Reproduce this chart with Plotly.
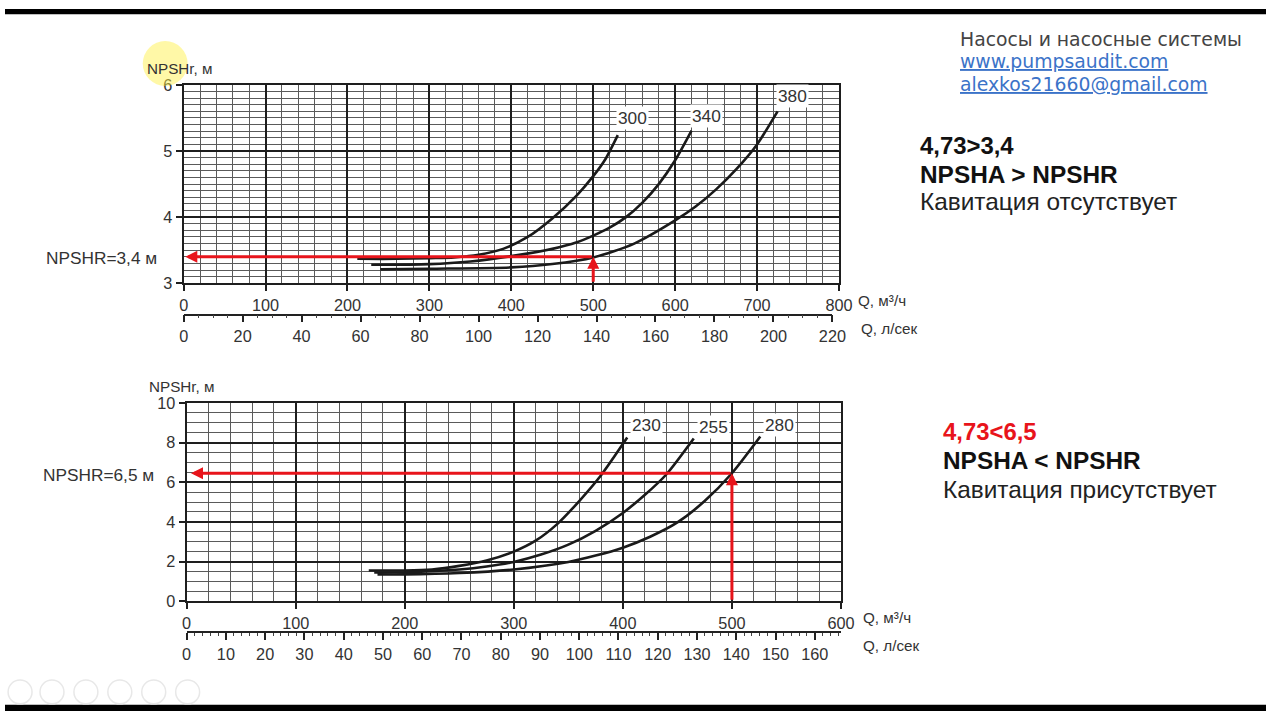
import plotly.graph_objects as go

# ---------------- data ----------------
# Top chart (impeller diameters 300/340/380), Q in m3/h, NPSHr in m
top_names = ["300", "340", "380"]
top_q = [
    [212, 260, 300, 330, 360, 390, 420, 450, 480, 500, 515, 530],
    [229, 300, 350, 400, 450, 480, 500, 520, 540, 560, 580, 600, 620],
    [240, 300, 400, 450, 500, 550, 600, 625, 650, 675, 700, 725],
]
top_h = [
    [3.37, 3.37, 3.38, 3.39, 3.43, 3.52, 3.70, 3.98, 4.33, 4.62, 4.88, 5.24],
    [3.28, 3.29, 3.33, 3.41, 3.52, 3.62, 3.72, 3.84, 4.00, 4.22, 4.50, 4.86, 5.31],
    [3.21, 3.22, 3.24, 3.29, 3.39, 3.60, 3.95, 4.16, 4.42, 4.73, 5.10, 5.60],
]
top_label_pos = [(548, 5.5), (638, 5.53), (743, 5.83)]

# Bottom chart (impeller diameters 230/255/280)
bot_names = ["230", "255", "280"]
bot_q = [
    [167, 200, 225, 250, 275, 300, 320, 340, 360, 380, 404],
    [172, 200, 250, 275, 300, 325, 350, 375, 400, 420, 440, 465],
    [175, 200, 250, 300, 350, 375, 400, 425, 450, 475, 500, 526],
]
bot_h = [
    [1.55, 1.55, 1.60, 1.78, 2.05, 2.50, 3.05, 3.90, 5.05, 6.35, 8.25],
    [1.45, 1.45, 1.60, 1.75, 1.98, 2.35, 2.85, 3.55, 4.45, 5.35, 6.40, 8.20],
    [1.35, 1.35, 1.42, 1.60, 1.98, 2.30, 2.70, 3.25, 3.97, 5.05, 6.45, 8.30],
]
bot_label_pos = [(422, 8.9), (483, 8.8), (544, 8.9)]

# operating point
Q_work = 500
npshr_top = 3.4
npshr_bot = 6.45

top_xticks = list(range(0, 801, 100))
top_lsticks = list(range(0, 221, 20))
bot_xticks = list(range(0, 601, 100))
bot_lsticks = list(range(0, 161, 10))

# Figure 1280x720 sits in the page with the default 8 px body margin;
# layout positions below are given in target-picture pixels and converted.
W, H = 1280, 720
OFF = 8
XSHIFT = 3
SX, SY = (W + 2 * OFF) / W, (H + 2 * OFF) / H
def px(x): return ((x + XSHIFT) * SX - OFF) / W
def py(y): return 1 - (y * SY - OFF) / H
FS = 1.017  # font scale

TICKFONT = dict(family="Liberation Sans Narrow, Arial Narrow, Liberation Sans, Arial", size=16 * FS, color="#333")
RED = "#e8141b"
MAJ = "#1e1e1e"
MIN = "#5a5a5a"

fig = go.Figure()

for q, h in zip(top_q, top_h):
    fig.add_trace(go.Scatter(x=q, y=h, xaxis="x", yaxis="y", mode="lines",
                             line=dict(color="#1a1a1a", width=2.6, shape="spline", smoothing=0.7),
                             hoverinfo="skip", showlegend=False))
for q, h in zip(bot_q, bot_h):
    fig.add_trace(go.Scatter(x=q, y=h, xaxis="x2", yaxis="y2", mode="lines",
                             line=dict(color="#1a1a1a", width=2.6, shape="spline", smoothing=0.7),
                             hoverinfo="skip", showlegend=False))
# dummy traces for secondary (l/s) axes
fig.add_trace(go.Scatter(x=[0], y=[0], xaxis="x3", yaxis="y3", mode="markers",
                         marker=dict(opacity=0), hoverinfo="skip", showlegend=False))
fig.add_trace(go.Scatter(x=[0], y=[0], xaxis="x4", yaxis="y4", mode="markers",
                         marker=dict(opacity=0), hoverinfo="skip", showlegend=False))

def main_x(domain, rng, minor, anchor, ticks):
    return dict(domain=domain, range=rng, anchor=anchor, tickvals=ticks, ticks="outside", ticklen=6,
                tickwidth=2, tickcolor=MAJ, showline=True, linecolor=MAJ, linewidth=2, mirror=True,
                showgrid=True, gridcolor=MAJ, gridwidth=2, zeroline=False, tickfont=TICKFONT,
                minor=dict(dtick=minor, tick0=0, showgrid=True, gridcolor=MIN, gridwidth=1),
                fixedrange=True)

def main_y(domain, rng, dtick, minor, anchor):
    return dict(domain=domain, range=rng, anchor=anchor, dtick=dtick, tick0=0, ticks="outside", ticklen=6,
                tickwidth=2, tickcolor=MAJ, showline=True, linecolor=MAJ, linewidth=2, mirror=True,
                showgrid=True, gridcolor=MAJ, gridwidth=2, zeroline=False, tickfont=TICKFONT,
                minor=dict(dtick=minor, tick0=0, showgrid=True, gridcolor=MIN, gridwidth=1),
                fixedrange=True)

def ls_x(domain, rng, ticks, minor, anchor):
    return dict(domain=domain, range=rng, anchor=anchor, tickvals=ticks, ticks="outside", ticklen=7,
                tickwidth=1.5, tickcolor="#222", showline=True, linecolor="#222", linewidth=1.5,
                showgrid=False, zeroline=False, tickfont=TICKFONT,
                minor=dict(dtick=minor, tick0=0, ticks="outside", ticklen=3, tickwidth=1, tickcolor="#444"),
                fixedrange=True)

def dummy_y(pos):
    return dict(domain=[py(pos) - 0.0005, py(pos)], range=[0, 1], visible=False, fixedrange=True)

top_x_dom = [px(184), px(841)]
bot_x_dom = [px(187), px(843)]
top_ls_end = 184 + 220 * 3.6 * (841 - 184) / 800
bot_ls_end = 843

fig.update_layout(
    width=W, height=H, margin=dict(l=0, r=0, t=0, b=0),
    paper_bgcolor="white", plot_bgcolor="white", showlegend=False,
    xaxis=main_x(top_x_dom, [0, 800], 20, "y", top_xticks),
    yaxis=main_y([py(283), py(84)], [3, 6], 1, 0.1, "x"),
    xaxis2=main_x(bot_x_dom, [0, 600], 20, "y2", bot_xticks),
    yaxis2=main_y([py(602), py(403)], [0, 10], 2, 0.5, "x2"),
    xaxis3=ls_x([px(184), px(top_ls_end)], [0, 220], top_lsticks, 5, "y3"),
    yaxis3=dummy_y(313),
    xaxis4=ls_x([px(187), px(bot_ls_end)], [0, 600 / 3.6], bot_lsticks, 2, "y4"),
    yaxis4=dummy_y(632),
)

ann = []
# curve labels
for name, (lx, ly) in zip(top_names, top_label_pos):
    ann.append(dict(x=lx, y=ly, xref="x", yref="y", text=name, showarrow=False, bgcolor="white",
                    borderpad=1, font=dict(family="Liberation Sans, Arial", size=17 * FS, color="#333")))
for name, (lx, ly) in zip(bot_names, bot_label_pos):
    ann.append(dict(x=lx, y=ly, xref="x2", yref="y2", text=name, showarrow=False, bgcolor="white",
                    borderpad=1, font=dict(family="Liberation Sans, Arial", size=17 * FS, color="#333")))

# red arrows
def arrow(xr, yr, x, y, ax, ay):
    return dict(x=x, y=y, ax=ax, ay=ay, xref=xr, yref=yr, axref=xr, ayref=yr, text="",
                showarrow=True, arrowhead=2, arrowsize=0.8, arrowwidth=3, arrowcolor=RED)
ann.append(arrow("x", "y", 2, npshr_top, Q_work, npshr_top))
ann.append(arrow("x", "y", Q_work, npshr_top, Q_work, 3.0))
ann.append(arrow("x2", "y2", 4, npshr_bot, Q_work, npshr_bot))
ann.append(arrow("x2", "y2", Q_work, npshr_bot, Q_work, 0.0))

def ptext(x, y, text, size, color="#333", family="Liberation Sans, Arial", xanchor="left"):
    return dict(x=px(x), y=py(y), xref="paper", yref="paper", text=text, showarrow=False,
                xanchor=xanchor, yanchor="middle", font=dict(family=family, size=size * FS, color=color))

# axis titles and units
ann.append(ptext(145, 68, "NPSHr, м", 15))
ann.append(ptext(147, 387, "NPSHr, м", 15))
ann.append(ptext(858, 300, "Q, м³/ч", 15))
ann.append(ptext(861, 328, "Q, л/сек", 15))
ann.append(ptext(863, 618, "Q, м³/ч", 15))
ann.append(ptext(863, 646, "Q, л/сек", 15))
ann.append(ptext(44, 258, "NPSHR=3,4 м", 17))
ann.append(ptext(41, 475, "NPSHR=6,5 м", 17))

# right side text
ann.append(ptext(960, 38, "Насосы и насосные системы", 18.5, "#444", "DejaVu Sans, Verdana"))
ann.append(ptext(960, 61, "<u>www.pumpsaudit.com</u>", 18.5, "#3b73c8", "DejaVu Sans, Verdana"))
ann.append(ptext(960, 84, "<u>alexkos21660@gmail.com</u>", 18.5, "#3b73c8", "DejaVu Sans, Verdana"))
ann.append(ptext(920, 145, "<b>4,73&gt;3,4</b>", 23.5, "#111"))
ann.append(ptext(920, 174, "<b>NPSHA &gt; NPSHR</b>", 24, "#111"))
ann.append(ptext(920, 201, "Кавитация отсутствует", 24, "#222"))
ann.append(ptext(943, 432, "<b>4,73&lt;6,5</b>", 23.5, RED))
ann.append(ptext(943, 461, "<b>NPSHA &lt; NPSHR</b>", 24, "#111"))
ann.append(ptext(943, 490, "Кавитация присутствует", 24, "#222"))

fig.update_layout(annotations=ann)

shapes = [
    dict(type="rect", xref="paper", yref="paper", x0=0, x1=1, y0=py(13), y1=1,
         fillcolor="black", line=dict(width=0), layer="above"),
    dict(type="rect", xref="paper", yref="paper", x0=0, x1=1, y0=0, y1=py(706),
         fillcolor="black", line=dict(width=0), layer="above"),
    dict(type="circle", xref="paper", yref="paper", x0=px(143), x1=px(188), y0=py(85), y1=py(40),
         fillcolor="rgba(255,240,60,0.45)", line=dict(width=0), layer="above"),
]
for cx in [20, 52, 86, 120, 154, 188]:
    shapes.append(dict(type="circle", xref="paper", yref="paper", x0=px(cx - 12), x1=px(cx + 12),
                       y0=py(705), y1=py(681), line=dict(color="#e8e8e8", width=1.5),
                       fillcolor="rgba(0,0,0,0)", layer="above"))
fig.update_layout(shapes=shapes)

fig.write_html("out.html")
